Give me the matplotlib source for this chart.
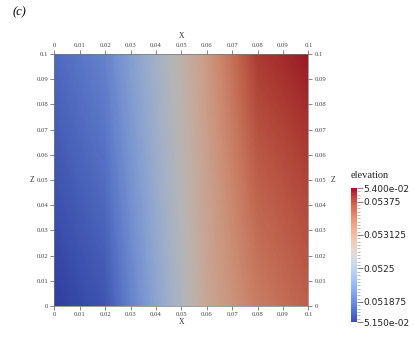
import numpy as np
import matplotlib
matplotlib.use('Agg')
import matplotlib.pyplot as plt
from matplotlib.colors import ListedColormap, Normalize
from matplotlib.ticker import MultipleLocator

# grid nodes
x_nodes = [0.0, 0.02, 0.04, 0.06, 0.08, 0.1]
z_nodes = [0.0, 0.05, 0.1]
elev_bottom = [0.05150, 0.05165, 0.05233, 0.05300, 0.05338, 0.05358]
elev_mid = [0.05165, 0.05183, 0.05245, 0.05305, 0.05358, 0.05375]
elev_top = [0.05180, 0.05200, 0.05255, 0.05313, 0.05380, 0.05395]

axis_ticks = [0, 0.01, 0.02, 0.03, 0.04, 0.05, 0.06, 0.07, 0.08, 0.09, 0.1]
axis_labels = ['0', '0.01', '0.02', '0.03', '0.04', '0.05', '0.06', '0.07', '0.08', '0.09', '0.1']
cbar_ticks = [0.0515, 0.051875, 0.0525, 0.053125, 0.05375, 0.054]
cbar_labels = ['5.150e-02', '0.051875', '0.0525', '0.053125', '0.05375', '5.400e-02']
vmin, vmax = 0.0515, 0.054

elev = np.array([elev_bottom, elev_mid, elev_top])

fig = plt.figure(figsize=(4.15, 3.59), dpi=100)
ax = fig.add_axes([0.1313, 0.1476, 0.612, 0.702])

# surface looks a bit shaded compared with the colour bar
base = plt.cm.coolwarm(np.linspace(0, 1, 256))
shaded = base.copy()
shaded[:, :3] *= 0.82
field_cmap = ListedColormap(shaded)

dx = x_nodes[1] - x_nodes[0]
dz = z_nodes[1] - z_nodes[0]
ax.imshow(elev, origin='lower', cmap=field_cmap, vmin=vmin, vmax=vmax,
          interpolation='bilinear', interpolation_stage='data', aspect='auto',
          extent=[x_nodes[0] - dx / 2, x_nodes[-1] + dx / 2,
                  z_nodes[0] - dz / 2, z_nodes[-1] + dz / 2])
ax.set_xlim(0, 0.1)
ax.set_ylim(0, 0.1)

tick_font = dict(family='Liberation Serif', size=4.8)
ax.set_xticks(axis_ticks)
ax.set_yticks(axis_ticks)
ax.set_xticklabels(axis_labels, fontdict=tick_font)
ax.set_yticklabels(axis_labels, fontdict=tick_font)
ax.tick_params(top=True, labeltop=True, right=True, labelright=True,
               direction='out', length=3, width=0.5, pad=1.5,
               colors='#555555', labelcolor='#444444')
for sp in ax.spines.values():
    sp.set_linewidth(0.5)
    sp.set_color('#777777')

lab = dict(family='Liberation Serif', size=5.5, color='#333333', ha='center', va='center')
ax.text(0.5, 1.071, 'X', transform=ax.transAxes, **lab)
ax.text(0.5, -0.063, 'X', transform=ax.transAxes, **lab)
ax.text(-0.089, 0.5, 'Z', transform=ax.transAxes, **lab)
ax.text(1.096, 0.5, 'Z', transform=ax.transAxes, **lab)

# colour bar
cax = fig.add_axes([0.846, 0.103, 0.0145, 0.373])
sm = plt.cm.ScalarMappable(norm=Normalize(vmin, vmax), cmap='coolwarm')
cb = fig.colorbar(sm, cax=cax)
cb.outline.set_linewidth(0)
cb.set_ticks(cbar_ticks)
cb.set_ticklabels(cbar_labels)
cax.yaxis.set_minor_locator(MultipleLocator(0.0000625))
cax.tick_params(which='major', length=4, width=0.6, colors='#666666',
                labelcolor='#222222', labelsize=6.5, pad=0.5)
cax.tick_params(which='minor', length=2, width=0.4, colors='#888888')
for t in cax.get_yticklabels():
    t.set_family('DejaVu Sans')
cax.set_title('elevation', family='Liberation Serif', size=7.5,
              color='#222222', loc='left', pad=7)

fig.text(0.03, 0.965, '(c)', family='Liberation Serif', style='italic',
         size=9, va='center', ha='left')

fig.savefig('out.png', dpi=100)
